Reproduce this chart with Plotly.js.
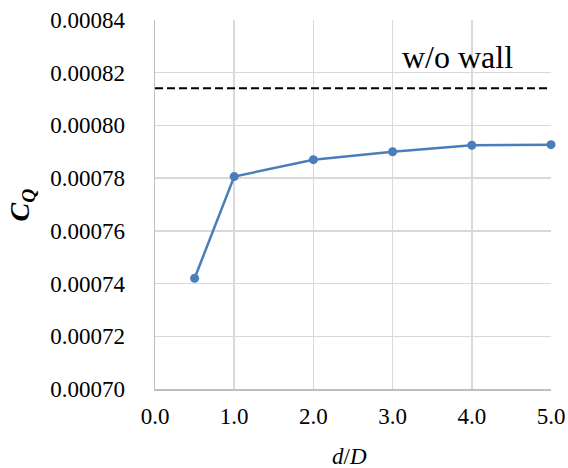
<!DOCTYPE html>
<html>
<head>
<meta charset="utf-8">
<script src="https://cdn.plot.ly/plotly-3.0.1.min.js"></script>
<style>html,body{margin:0;padding:0;background:#fff;}#chart{width:568px;height:468px;}</style>
</head>
<body>
<div id="chart"></div>
<script>
const dOverD = [0.5, 1.0, 2.0, 3.0, 4.0, 5.0];
const cqValues = [0.000742, 0.0007806, 0.000787, 0.0007900, 0.0007925, 0.0007927];
const noWallCq = 0.0008141;
const xTickVals = [0, 1, 2, 3, 4, 5];
const xTickText = ["0.0", "1.0", "2.0", "3.0", "4.0", "5.0"];
const yTickVals = [0.00070, 0.00072, 0.00074, 0.00076, 0.00078, 0.00080, 0.00082, 0.00084];
const yTickText = ["0.00070", "0.00072", "0.00074", "0.00076", "0.00078", "0.00080", "0.00082", "0.00084"];
const noWallLabel = "w/o wall";

const font = "Liberation Serif";

const traces = [{
  x: dOverD, y: cqValues, type: "scatter", mode: "lines+markers",
  line: {color: "#4a7ebb", width: 2.5},
  marker: {color: "#4a7ebb", size: 9},
  cliponaxis: false,
  showlegend: false
}];

const layout = {
  width: 568, height: 468,
  margin: {l: 155, r: 17, t: 20, b: 79},
  paper_bgcolor: "#fff", plot_bgcolor: "#fff",
  font: {family: font, size: 23, color: "#000"},
  xaxis: {
    range: [0, 5], tickmode: "array", tickvals: xTickVals, ticktext: xTickText,
    showgrid: true, gridcolor: "#d9d9d9", gridwidth: 1.5,
    showline: true, linecolor: "#bfbfbf", linewidth: 1.5,
    zeroline: false, ticks: "", ticklabelstandoff: 6,
    tickfont: {family: font, size: 23, color: "#000"}
  },
  yaxis: {
    range: [0.00070, 0.00084], tickmode: "array", tickvals: yTickVals, ticktext: yTickText,
    showgrid: true, gridcolor: "#d9d9d9", gridwidth: 1.5,
    showline: true, linecolor: "#bfbfbf", linewidth: 1.5,
    zeroline: false, ticks: "", ticklabelstandoff: 24,
    tickfont: {family: font, size: 23, color: "#000"}
  },
  shapes: [{
    type: "line", xref: "paper", x0: 0, x1: 1, yref: "y", y0: noWallCq, y1: noWallCq,
    line: {color: "#000", width: 2.2, dash: "8px,4px"}
  }],
  annotations: [
    {text: noWallLabel, xref: "x", yref: "y", x: 3.82, y: 0.000826, showarrow: false,
     xanchor: "center", yanchor: "middle", font: {family: font, size: 32, color: "#000"}},
    {text: "<b><i>C</i></b><sub><b><i>Q</i></b></sub>", xref: "paper", yref: "paper",
     x: -0.336, y: 0.5, textangle: -90, showarrow: false, xanchor: "center", yanchor: "middle",
     font: {family: font, size: 28, color: "#000"}},
    {text: "<i>d</i>/<i>D</i>", xref: "paper", yref: "paper",
     x: 0.49, y: -0.184, showarrow: false, xanchor: "center", yanchor: "middle",
     font: {family: font, size: 23, color: "#000"}}
  ]
};

function fixTickFonts() {
  document.querySelectorAll("#chart .xtick text, #chart .ytick text").forEach(function (t) {
    t.style.setProperty("font-family", "'Liberation Serif', 'Times New Roman', serif", "important");
  });
}

Plotly.newPlot("chart", traces, layout, {displayModeBar: false, staticPlot: true}).then(function (gd) {
  fixTickFonts();
  gd.on && gd.on("plotly_afterplot", fixTickFonts);
});
</script>
</body>
</html>
